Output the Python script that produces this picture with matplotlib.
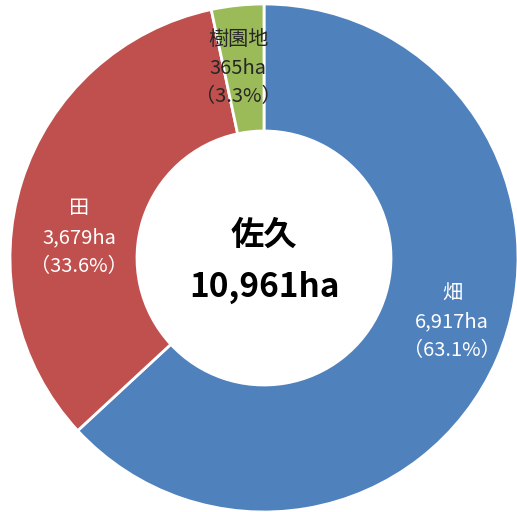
import matplotlib
matplotlib.use("Agg")
import matplotlib.pyplot as plt

plt.rcParams['font.family'] = ['Noto Sans CJK JP', 'DejaVu Sans']

# Farmland area by type (ha)
region = "佐久"
categories = ["畑", "田", "樹園地"]
areas = [6917, 3679, 365]
colors = ["#4F81BD", "#C0504D", "#9BBB59"]
text_colors = ["white", "white", "#262626"]
# label anchor points in axis units (radius = 1)
label_pos = [(0.740, -0.252), (-0.728, 0.079), (-0.102, 0.748)]

total = sum(areas)

fig = plt.figure(figsize=(5.17, 5.12), dpi=100)
ax = fig.add_axes([10 / 517, 0, 508 / 517, 508 / 512])
ax.pie(areas, colors=colors, startangle=90, counterclock=False, radius=1,
       wedgeprops=dict(width=0.5, edgecolor="white", linewidth=2))
ax.set_xlim(-1, 1)
ax.set_ylim(-1, 1)
ax.set_aspect("equal")
ax.axis("off")

for cat, val, tc, (x, y) in zip(categories, areas, text_colors, label_pos):
    pct = val / total * 100
    ax.text(x, y, f"{cat}\n{val:,}ha\n（{pct:.1f}%）", ha="center", va="center",
            color=tc, fontsize=14.5, linespacing=1.5)

ax.text(0, 0.09, region, ha="center", va="center",
        fontsize=24, fontweight="bold", color="black")
ax.text(0, -0.114, f"{total:,}ha", ha="center", va="center",
        fontsize=24, fontweight="bold", color="black")

fig.savefig("out.png", dpi=100)
